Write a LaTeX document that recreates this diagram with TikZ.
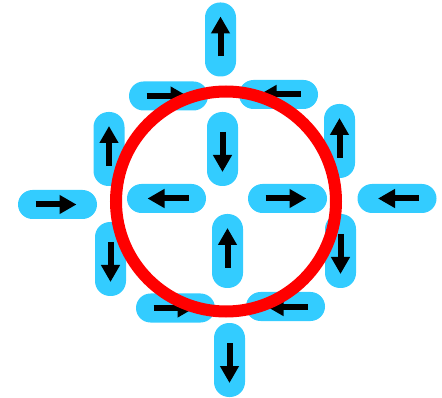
\documentclass[tikz,border=0pt]{standalone}
\usetikzlibrary{arrows.meta}
\definecolor{pillblue}{HTML}{33CCFF}
\definecolor{ringred}{HTML}{FF0000}
\tikzset{
  pillh/.style={fill=pillblue, draw=none, rounded corners=14.5pt, minimum width=79pt, minimum height=29pt, inner sep=0pt, shape=rectangle},
  pillv/.style={fill=pillblue, draw=none, rounded corners=15pt, minimum width=31pt, minimum height=74pt, inner sep=0pt, shape=rectangle},
  arr/.style={draw=black, line width=6pt, -{Triangle[length=17pt,width=18pt]}},
  ring/.style={draw=ringred, line width=12pt, fill=none}
}
% yshift is in page direction (positive = up)
\newcommand{\uparr}[1]{\draw[arr] ([yshift=-17pt]#1.center) -- ([yshift=23pt]#1.center);}
\newcommand{\dnarr}[1]{\draw[arr] ([yshift=17pt]#1.center) -- ([yshift=-23pt]#1.center);}
\newcommand{\rtarr}[1]{\draw[arr] ([xshift=-22pt]#1.center) -- ([xshift=19pt]#1.center);}
\newcommand{\ltarr}[1]{\draw[arr] ([xshift=22pt]#1.center) -- ([xshift=-19pt]#1.center);}
\begin{document}
\begin{tikzpicture}[x=1pt,y=-1pt]
\useasboundingbox (0,0) rectangle (442,398);
% vertical pills
\node[pillv] (p1) at (220.5,39.5) {};
\node[pillv] (p4) at (109,149) {};
\node[pillv] (p5) at (222.5,149) {};
\node[pillv] (p6) at (339.5,141) {};
\node[pillv] (p11) at (110.5,259) {};
\node[pillv] (p12) at (227.5,251) {};
\node[pillv] (p13) at (340.5,251) {};
\node[pillv] (p16) at (229.5,360) {};
% horizontal pills
\node[pillh] (p2) at (168.5,96) {};
\node[pillh] (p3) at (278.5,94.5) {};
\node[pillh] (p7) at (57.5,204.5) {};
\node[pillh] (p8) at (166.5,198.5) {};
\node[pillh] (p9) at (287.5,198.5) {};
\node[pillh] (p10) at (397,198.5) {};
\node[pillh] (p14) at (175.5,308) {};
\node[pillh] (p15) at (285.5,306.5) {};
% arrows
\uparr{p1}
\uparr{p4}
\dnarr{p5}
\uparr{p6}
\dnarr{p11}
\uparr{p12}
\dnarr{p13}
\dnarr{p16}
\rtarr{p2}
\ltarr{p3}
\rtarr{p7}
\ltarr{p8}
\rtarr{p9}
\ltarr{p10}
\rtarr{p14}
\ltarr{p15}
% ring
\node[ring, circle, minimum size=220pt, inner sep=0pt] (ring) at (226,201.5) {};
\end{tikzpicture}
\end{document}
